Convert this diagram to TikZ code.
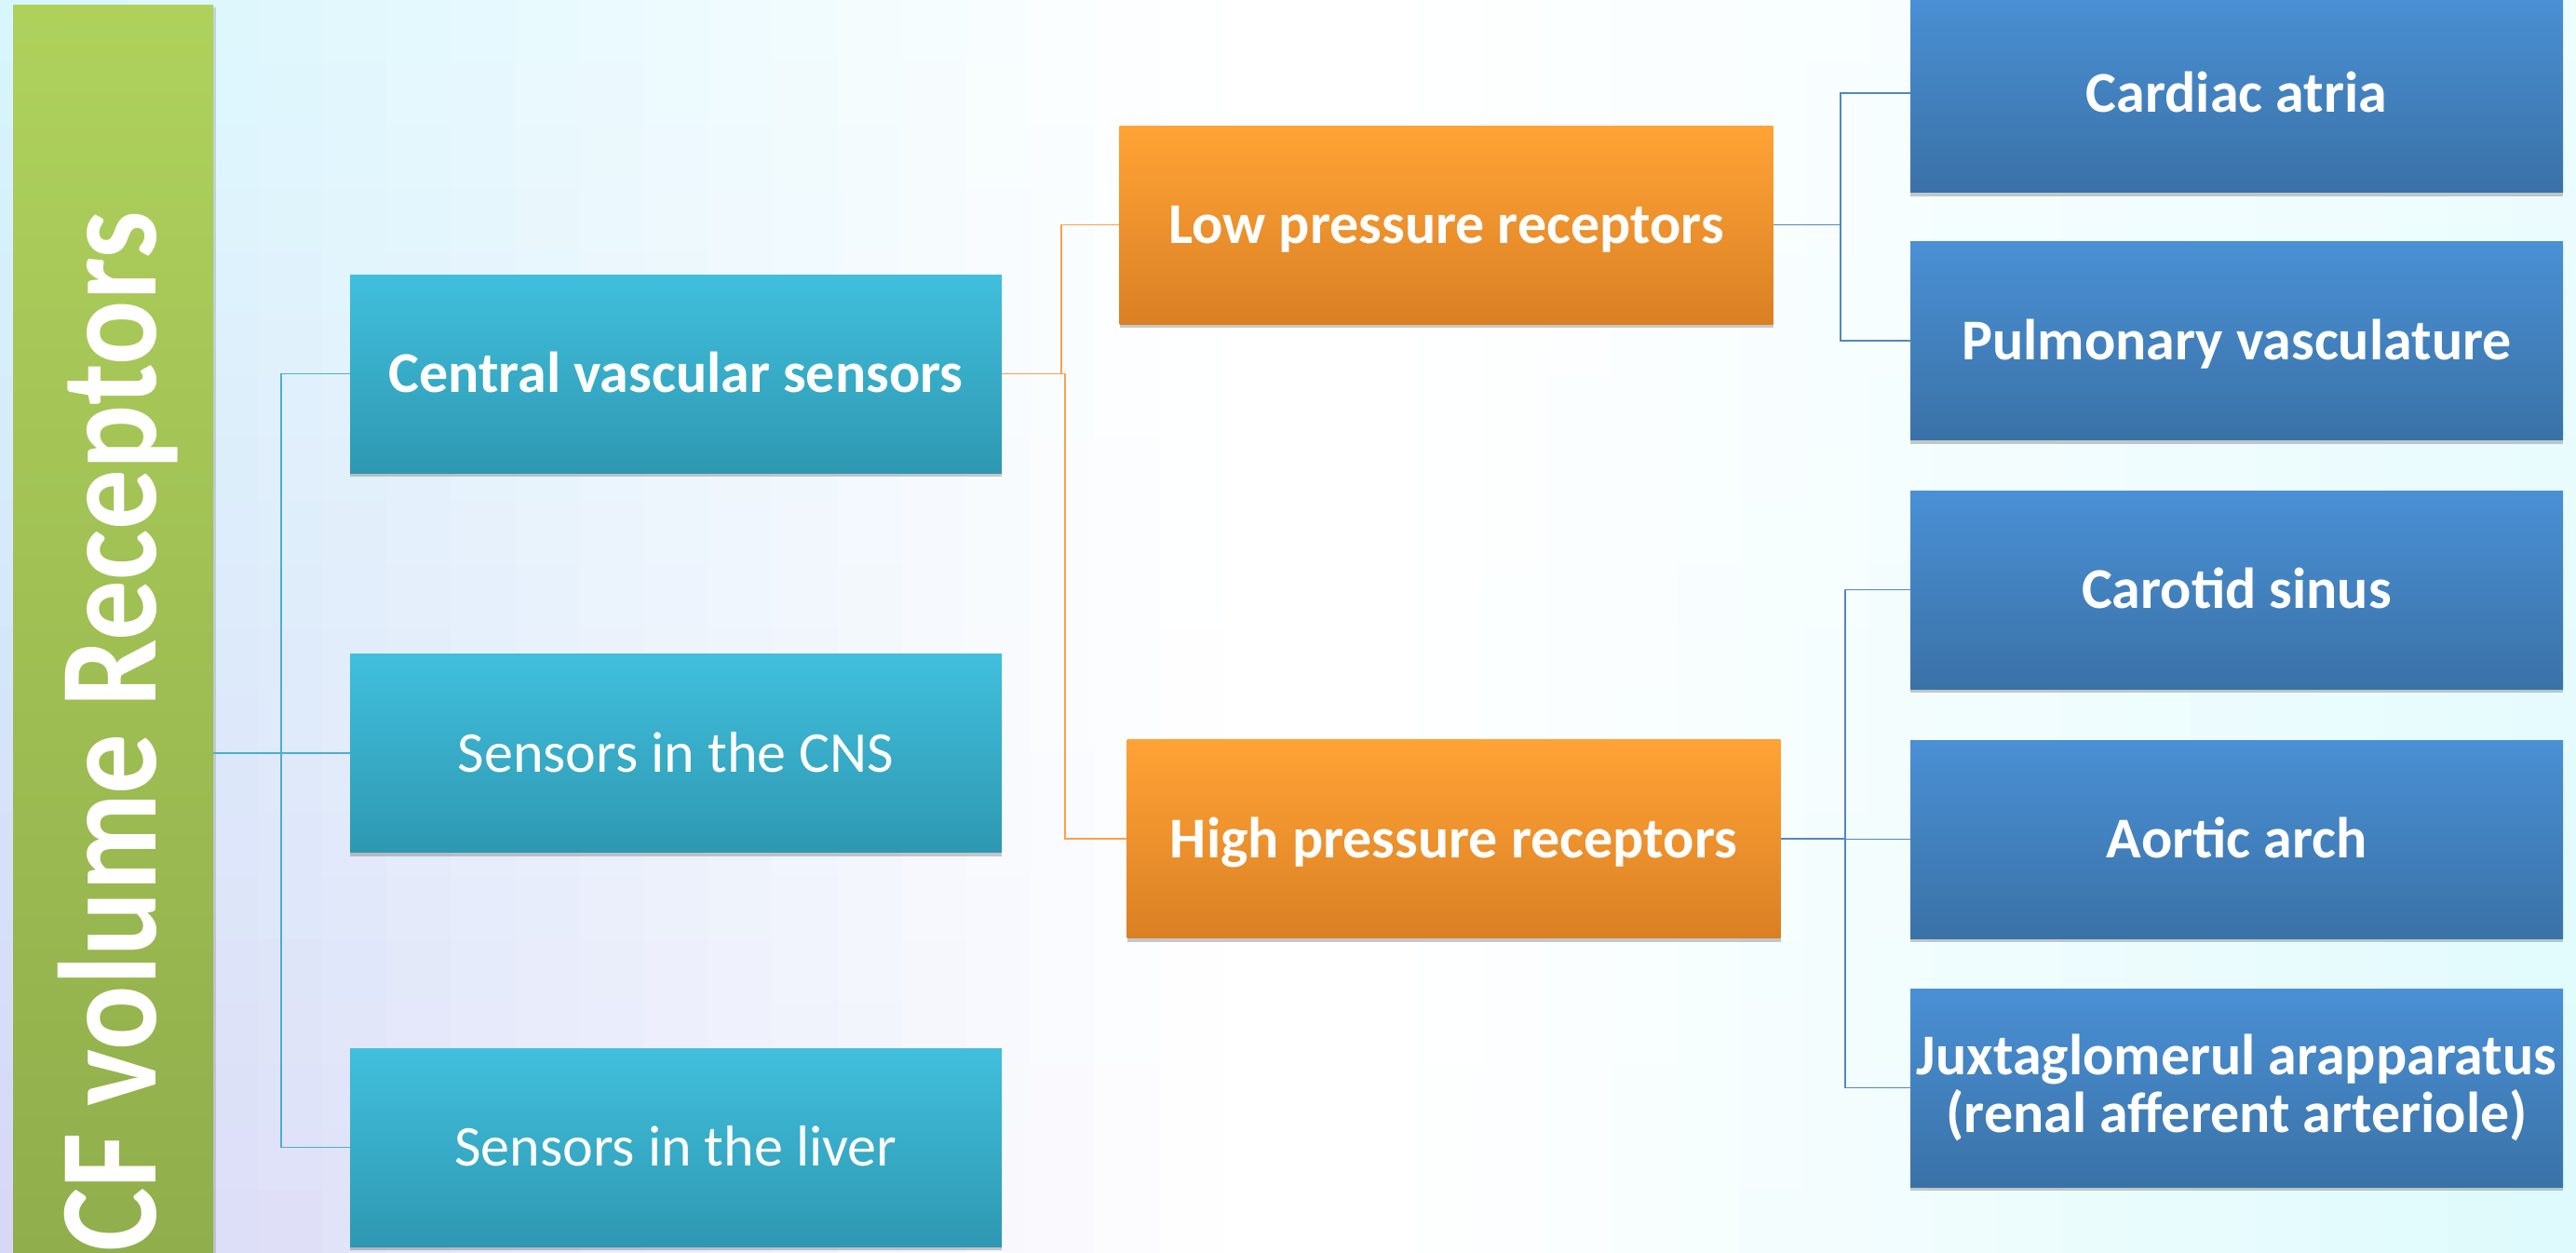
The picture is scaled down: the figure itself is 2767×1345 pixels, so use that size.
\documentclass[tikz,border=0pt]{standalone}
\usepackage{fontspec}
\setmainfont{Carlito}
\usetikzlibrary{shadows}
\definecolor{cyanT}{HTML}{40BFDD}
\definecolor{cyanB}{HTML}{2E98B1}
\definecolor{orT}{HTML}{FFA335}
\definecolor{orB}{HTML}{DA8024}
\definecolor{blT}{HTML}{4A90D5}
\definecolor{blB}{HTML}{3A72A7}
\definecolor{grT}{HTML}{AFD15C}
\definecolor{grB}{HTML}{8AA748}
\definecolor{lnC}{HTML}{4BB0CC}
\definecolor{lnO}{HTML}{F9A04E}
\definecolor{lnB}{HTML}{5287C2}
\definecolor{bgTL}{HTML}{D6F6FD}
\definecolor{bgBL}{HTML}{D5D6F6}
\definecolor{bgTR}{HTML}{EEFDFF}
\definecolor{bgBR}{HTML}{DDFAFC}
\begin{document}
\begin{tikzpicture}[x=1pt,y=-1pt,
  box/.style={minimum width=700pt, minimum height=213pt, inner sep=0pt,
    text=white, font=\fontsize{62}{62}\selectfont, align=center, shading=axis,
    drop shadow={shadow xshift=0pt, shadow yshift=-4pt, opacity=0.3, fill=black!70}},
  one/.style={text height=46pt, text depth=6pt},
  cbox/.style={box, one, top color=cyanT, bottom color=cyanB},
  obox/.style={box, one, top color=orT, bottom color=orB, minimum width=702pt},
  bbox/.style={box, top color=blT, bottom color=blB, minimum width=701pt},
  lc/.style={draw=lnC, line width=1.6pt},
  lo/.style={draw=lnO, line width=1.6pt},
  lb/.style={draw=lnB, line width=1.6pt}]
\clip (0,0) rectangle (2767,1345);
% background: bilinear tint made of small flat cells
\foreach \i in {0,...,39}{
  \pgfmathsetmacro{\xa}{\i*69.2}
  \pgfmathsetmacro{\xb}{\xa+72}
  \pgfmathsetmacro{\xm}{\xa+34.6}
  \pgfmathsetmacro{\pl}{max(0,100-\xm/13)}
  \pgfmathsetmacro{\pr}{max(0,(\xm-1500)/12.67)}
  \foreach \j in {0,...,19}{
    \pgfmathsetmacro{\ya}{\j*67.25}
    \pgfmathsetmacro{\yb}{\ya+70}
    \pgfmathsetmacro{\tp}{100-(\j+0.5)*5}
    \ifdim\xm pt<1400pt
      \colorlet{cellc}{bgTL!\tp!bgBL}
      \fill[cellc!\pl!white] (\xa,\ya) rectangle (\xb,\yb);
    \else
      \colorlet{cellc}{bgTR!\tp!bgBR}
      \fill[cellc!\pr!white] (\xa,\ya) rectangle (\xb,\yb);
    \fi
  }
}
% title bar
\node[minimum width=215pt, minimum height=1608pt, inner sep=0pt, shading=axis,
  top color=grT, bottom color=grB,
  drop shadow={shadow xshift=3pt, shadow yshift=-3pt, opacity=0.2, fill=black!70}] (bar) at (121.5,809) {};
\node[rotate=90, xscale=0.86, anchor=base east, text=white, inner sep=0pt,
  font=\fontsize{150}{150}\selectfont\bfseries] (title) at (167,227) {ECF volume Receptors};
% level 1
\node[cbox] (cvs) at (726,401.5) {\bfseries Central vascular sensors};
\node[cbox] (cns) at (726,809) {Sensors in the CNS};
\node[cbox] (liver) at (726,1232.5) {Sensors in the liver};
% level 2
\node[obox] (low) at (1553.5,241.5) {\bfseries Low pressure receptors};
\node[obox] (high) at (1561.5,901) {\bfseries High pressure receptors};
% level 3
\node[bbox, one] (cardiac) at (2402.5,100) {\bfseries Cardiac atria};
\node[bbox, one] (pulm) at (2402.5,366) {\bfseries Pulmonary vasculature};
\node[bbox, one] (carotid) at (2402.5,633.5) {\bfseries Carotid sinus};
\node[bbox, one] (aortic) at (2402.5,901.5) {\bfseries Aortic arch};
\node[bbox] (juxta) at (2402.5,1168.5) {\bfseries Juxtaglomerul arapparatus\\\bfseries (renal afferent arteriole)};
% connectors
\coordinate (j1) at (302,809);
\draw[lc] (bar.east |- j1) -- (j1);
\draw[lc] (j1) |- (cvs.west);
\draw[lc] (j1) |- (cns.west);
\draw[lc] (j1) |- (liver.west);
\coordinate (j2) at (1140,401.5);
\coordinate (j3) at (1144,401.5);
\draw[lo] (cvs.east) -- (j2) |- (low.west);
\draw[lo] (cvs.east) -- (j3) |- (high.west);
\coordinate (j4) at (1977,241.5);
\draw[lb] (low.east) -- (j4) |- (cardiac.west);
\draw[lb] (j4) |- (pulm.west);
\coordinate (j5) at (1982,901);
\draw[lb] (high.east) -- (j5) |- (carotid.west);
\draw[lb] (j5) |- (aortic.west);
\draw[lb] (j5) |- (juxta.west);
\end{tikzpicture}
\end{document}
